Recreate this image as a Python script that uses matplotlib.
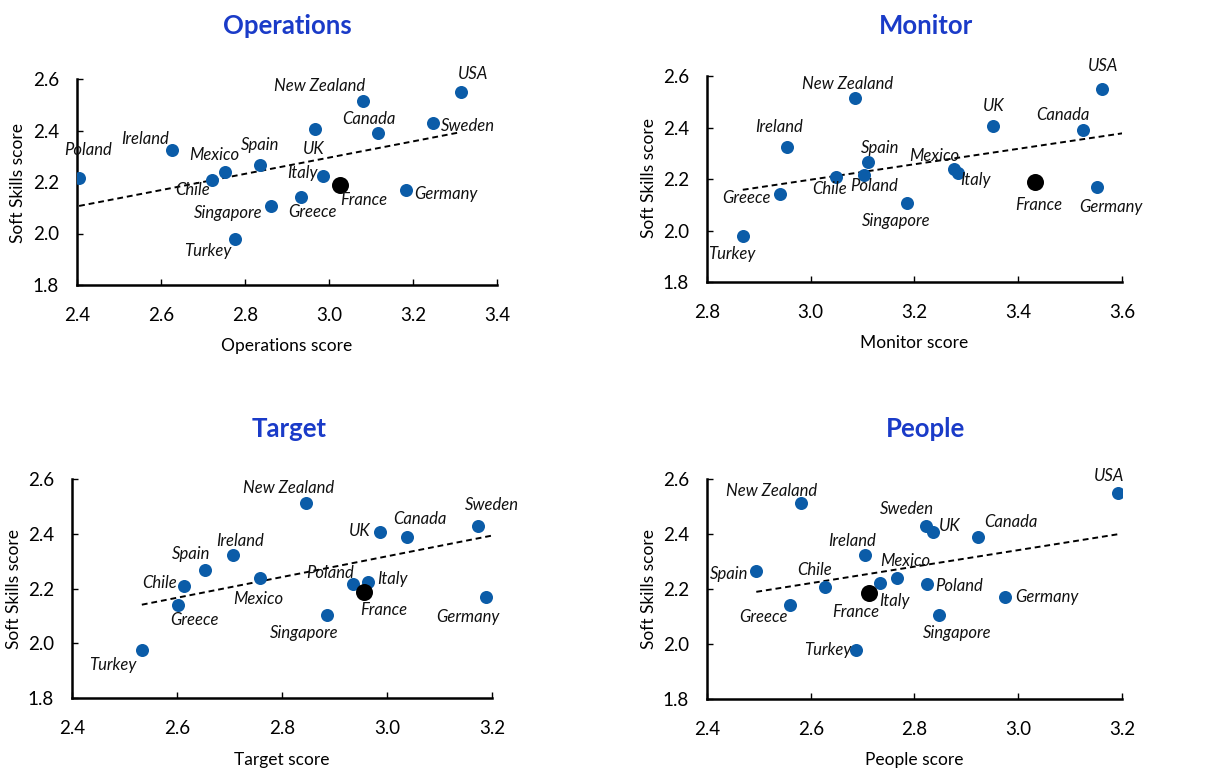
import numpy as np
import matplotlib
matplotlib.use("Agg")
import matplotlib.pyplot as plt

plt.rcParams['font.family'] = ['Lato', 'DejaVu Sans']

countries = ["USA", "New Zealand", "Sweden", "Canada", "UK", "Ireland", "Spain",
             "Mexico", "Chile", "Poland", "Italy", "France", "Germany", "Greece",
             "Singapore", "Turkey"]
soft_skills = [2.549, 2.513, 2.430, 2.389, 2.407, 2.323, 2.267, 2.240, 2.209,
               2.217, 2.223, 2.187, 2.170, 2.141, 2.105, 1.977]
# Sweden (Monitor) and USA (Target) lie just beyond the axis range in the
# reference; their values are estimated from the drawn trendlines.
operations = [3.314, 3.082, 3.248, 3.117, 2.967, 2.626, 2.836, 2.752, 2.722,
              2.405, 2.985, 3.026, 3.183, 2.933, 2.861, 2.776]
monitor = [3.561, 3.085, 3.690, 3.524, 3.351, 2.954, 3.110, 3.277, 3.048,
           3.103, 3.283, 3.433, 3.552, 2.941, 3.186, 2.869]
target = [3.215, 2.846, 3.173, 3.039, 2.987, 2.707, 2.654, 2.759, 2.614,
          2.935, 2.964, 2.957, 3.189, 2.601, 2.886, 2.533]
people = [3.192, 2.581, 2.823, 2.922, 2.836, 2.704, 2.495, 2.767, 2.628,
          2.824, 2.734, 2.712, 2.974, 2.560, 2.847, 2.688]

titles = ["Operations", "Monitor", "Target", "People"]
xlabels = ["Operations score", "Monitor score", "Target score", "People score"]
xlims = [(2.4, 3.4), (2.8, 3.6), (2.4, 3.2), (2.4, 3.2)]
xticks_list = [[2.4, 2.6, 2.8, 3.0, 3.2, 3.4], [2.8, 3.0, 3.2, 3.4, 3.6],
               [2.4, 2.6, 2.8, 3.0, 3.2], [2.4, 2.6, 2.8, 3.0, 3.2]]
yticks = [1.8, 2.0, 2.2, 2.4, 2.6]

# label offsets (pixels) per panel
offsets = [
    {"USA": (12, 18), "New Zealand": (-44, 15), "Sweden": (35, -3), "Canada": (-9, 14),
     "UK": (-1, -20), "Ireland": (-27, 11), "Spain": (0, 20), "Mexico": (-11, 17),
     "Chile": (-20, -10), "Poland": (9, 28), "Italy": (-20, 3), "France": (24, -15),
     "Germany": (40, -4), "Greece": (12, -15), "Singapore": (-42, -7), "Turkey": (-27, -12)},
    {"USA": (1, 23), "New Zealand": (-7, 14), "Sweden": (0, 20), "UK": (1, 20),
     "Canada": (-20, 15), "Ireland": (-8, 20), "Spain": (12, 14), "Mexico": (-20, 13),
     "Italy": (18, -7), "Chile": (-6, -12), "Poland": (10, -11), "Greece": (-34, -4),
     "Singapore": (-11, -18), "France": (3, -23), "Germany": (14, -20), "Turkey": (-11, -18)},
    {"USA": (0, 20), "New Zealand": (-18, 15), "Sweden": (14, 21), "Canada": (12, 18),
     "UK": (-20, 1), "Ireland": (7, 14), "Spain": (-14, 16), "Chile": (-25, 3),
     "Greece": (17, -15), "Mexico": (-2, -21), "Poland": (-23, 11), "Italy": (24, 3),
     "France": (19, -18), "Singapore": (-23, -18), "Germany": (-18, -20), "Turkey": (-29, -15)},
    {"USA": (-9, 17), "New Zealand": (-29, 12), "Sweden": (-20, 17), "UK": (17, 6),
     "Canada": (33, 15), "Ireland": (-13, 14), "Spain": (-27, -3), "Chile": (-11, 17),
     "Mexico": (8, 17), "Italy": (14, -18), "France": (-13, -19), "Poland": (32, -2),
     "Germany": (42, 0), "Greece": (-27, -12), "Singapore": (18, -18), "Turkey": (-29, 0)},
]

W, H = 1226, 771
fig = plt.figure(figsize=(W / 100, H / 100), dpi=100)

# axes boxes in pixels: left, top, right, bottom
boxes = [(77, 79, 497, 285), (707, 76, 1122, 282), (72, 479, 492, 698), (707, 479, 1122, 699)]
title_pos = [(287, 26), (926, 26), (289, 429), (926, 429)]
xlabel_pos = [(287, 346), (914, 343), (282, 760), (914, 760)]
ylabel_pos = [(18, 183), (649, 178), (14, 589), (649, 589)]

BLUE = "#0B5CA8"
TITLE_BLUE = "#1A3BC8"

datasets = [operations, monitor, target, people]
for i, xs in enumerate(datasets):
    l, t, r, b = boxes[i]
    ax = fig.add_axes([l / W, 1 - b / H, (r - l) / W, (b - t) / H])
    x = np.array(xs, dtype=float)
    y = np.array(soft_skills, dtype=float)
    lo, hi = xlims[i]
    # trendline (linear fit over all countries, clipped by the axes)
    k, c = np.polyfit(x, y, 1)
    xx = np.array([x.min(), x.max()])
    ax.plot(xx, k * xx + c, color="black", lw=1.4, ls=(0, (3, 2)), zorder=1)
    for j, name in enumerate(countries):
        if not (lo <= x[j] <= hi):
            continue
        if name == "France":
            ax.scatter(x[j], y[j], s=150, color="black", zorder=3, linewidths=0)
        else:
            ax.scatter(x[j], y[j], s=88, color=BLUE, zorder=3, linewidths=0)
        dx, dy = offsets[i][name]
        ax.annotate(name, (x[j], y[j]), xytext=(dx, dy), textcoords="offset pixels",
                    ha="center", va="center", fontsize=12, style="italic",
                    color="#111111", zorder=4, annotation_clip=False)
    ax.set_xlim(lo, hi)
    ax.set_ylim(1.8, 2.6)
    ax.set_xticks(xticks_list[i])
    ax.set_yticks(yticks)
    ax.set_xticklabels([f"{v:.1f}" for v in xticks_list[i]])
    ax.set_yticklabels([f"{v:.1f}" for v in yticks])
    for s in ["top", "right"]:
        ax.spines[s].set_visible(False)
    for s in ["left", "bottom"]:
        ax.spines[s].set_linewidth(1.8)
    ax.tick_params(direction="in", length=4, width=1, labelsize=13.5)
    ax.tick_params(axis="x", pad=16)
    ax.tick_params(axis="y", pad=13)
    ax.patch.set_alpha(0)

    tx, ty = title_pos[i]
    fig.text(tx / W, 1 - ty / H, titles[i], ha="center", va="center",
             fontsize=18.5, fontweight="bold", color=TITLE_BLUE)
    lx, ly = xlabel_pos[i]
    fig.text(lx / W, 1 - ly / H, xlabels[i], ha="center", va="center", fontsize=12.5)
    yx, yy = ylabel_pos[i]
    fig.text(yx / W, 1 - yy / H, "Soft Skills score", ha="center", va="center",
             fontsize=12.5, rotation=90)

fig.savefig("out.png", dpi=100)
